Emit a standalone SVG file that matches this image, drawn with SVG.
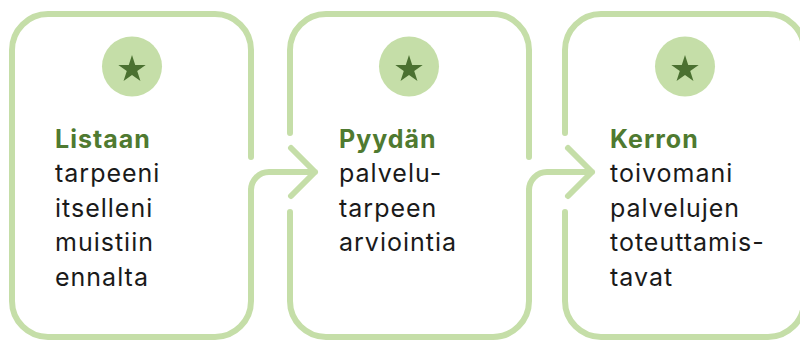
<svg xmlns="http://www.w3.org/2000/svg" width="800" height="340" viewBox="0 0 800 340">
  <defs>
    <style>
      .outline { fill: none; stroke: #c5dea8; stroke-width: 6; stroke-linecap: round; stroke-linejoin: round; }
      .badge { fill: #c5dea8; }
      .star { fill: #4b7131; }
      .title { font-family: Inter, "Open Sans", sans-serif; font-size: 25px; font-weight: 700; fill: #4f7a30; letter-spacing: 1px; }
      .body { font-family: Inter, "Open Sans", sans-serif; font-size: 25px; font-weight: 400; fill: #1a1a1a; letter-spacing: 1px; }
    </style>
    <polygon id="star" points="0,-14.4 3.23,-4.45 13.7,-4.45 5.23,1.7 8.46,11.65 0,5.5 -8.46,11.65 -5.23,1.7 -13.7,-4.45 -3.23,-4.45"/>
  </defs>
  <rect width="800" height="340" fill="#ffffff"/>

  <g id="step1">
    <path class="outline" d="M 251 157 V 50 A 36 36 0 0 0 215 14 H 48 A 36 36 0 0 0 12 50 V 301 A 36 36 0 0 0 48 337 H 215 A 36 36 0 0 0 251 301 V 190"/>
    <circle class="badge" cx="132" cy="66.5" r="30"/>
    <use href="#star" class="star" x="132" y="69.4"/>
    <text class="title" x="55" y="147.5">Listaan</text>
    <text class="body" x="55" y="182">tarpeeni</text>
    <text class="body" x="55" y="216.5">itselleni</text>
    <text class="body" x="55" y="251">muistiin</text>
    <text class="body" x="55" y="285.7">ennalta</text>
  </g>

  <g id="step2">
    <path class="outline" d="M 529 157 V 50 A 36 36 0 0 0 493 14 H 326 A 36 36 0 0 0 290 50 V 133 M 290 212 V 301 A 36 36 0 0 0 326 337 H 493 A 36 36 0 0 0 529 301 V 190"/>
    <circle class="badge" cx="409" cy="66.5" r="30"/>
    <use href="#star" class="star" x="409" y="69.4"/>
    <text class="title" x="339" y="147.5">Pyydän</text>
    <text class="body" x="339" y="182">palvelu-</text>
    <text class="body" x="339" y="216.5">tarpeen</text>
    <text class="body" x="339" y="251">arviointia</text>
  </g>

  <g id="step3">
    <path class="outline" d="M 565 133 V 50 A 36 36 0 0 1 601 14 H 768 A 36 36 0 0 1 804 50 V 301 A 36 36 0 0 1 768 337 H 601 A 36 36 0 0 1 565 301 V 212"/>
    <circle class="badge" cx="685" cy="66.5" r="30"/>
    <use href="#star" class="star" x="685" y="69.4"/>
    <text class="title" x="610" y="147.5">Kerron</text>
    <text class="body" x="610" y="182">toivomani</text>
    <text class="body" x="610" y="216.5">palvelujen</text>
    <text class="body" x="610" y="251">toteuttamis-</text>
    <text class="body" x="610" y="285.7">tavat</text>
  </g>

  <g id="connectors">
    <path class="outline" d="M 251 190 A 18 18 0 0 1 269 172 H 315 M 291 148 L 315 172 L 291 196"/>
    <path class="outline" d="M 529 190 A 18 18 0 0 1 547 172 H 592 M 568 148 L 592 172 L 568 196"/>
  </g>
</svg>
